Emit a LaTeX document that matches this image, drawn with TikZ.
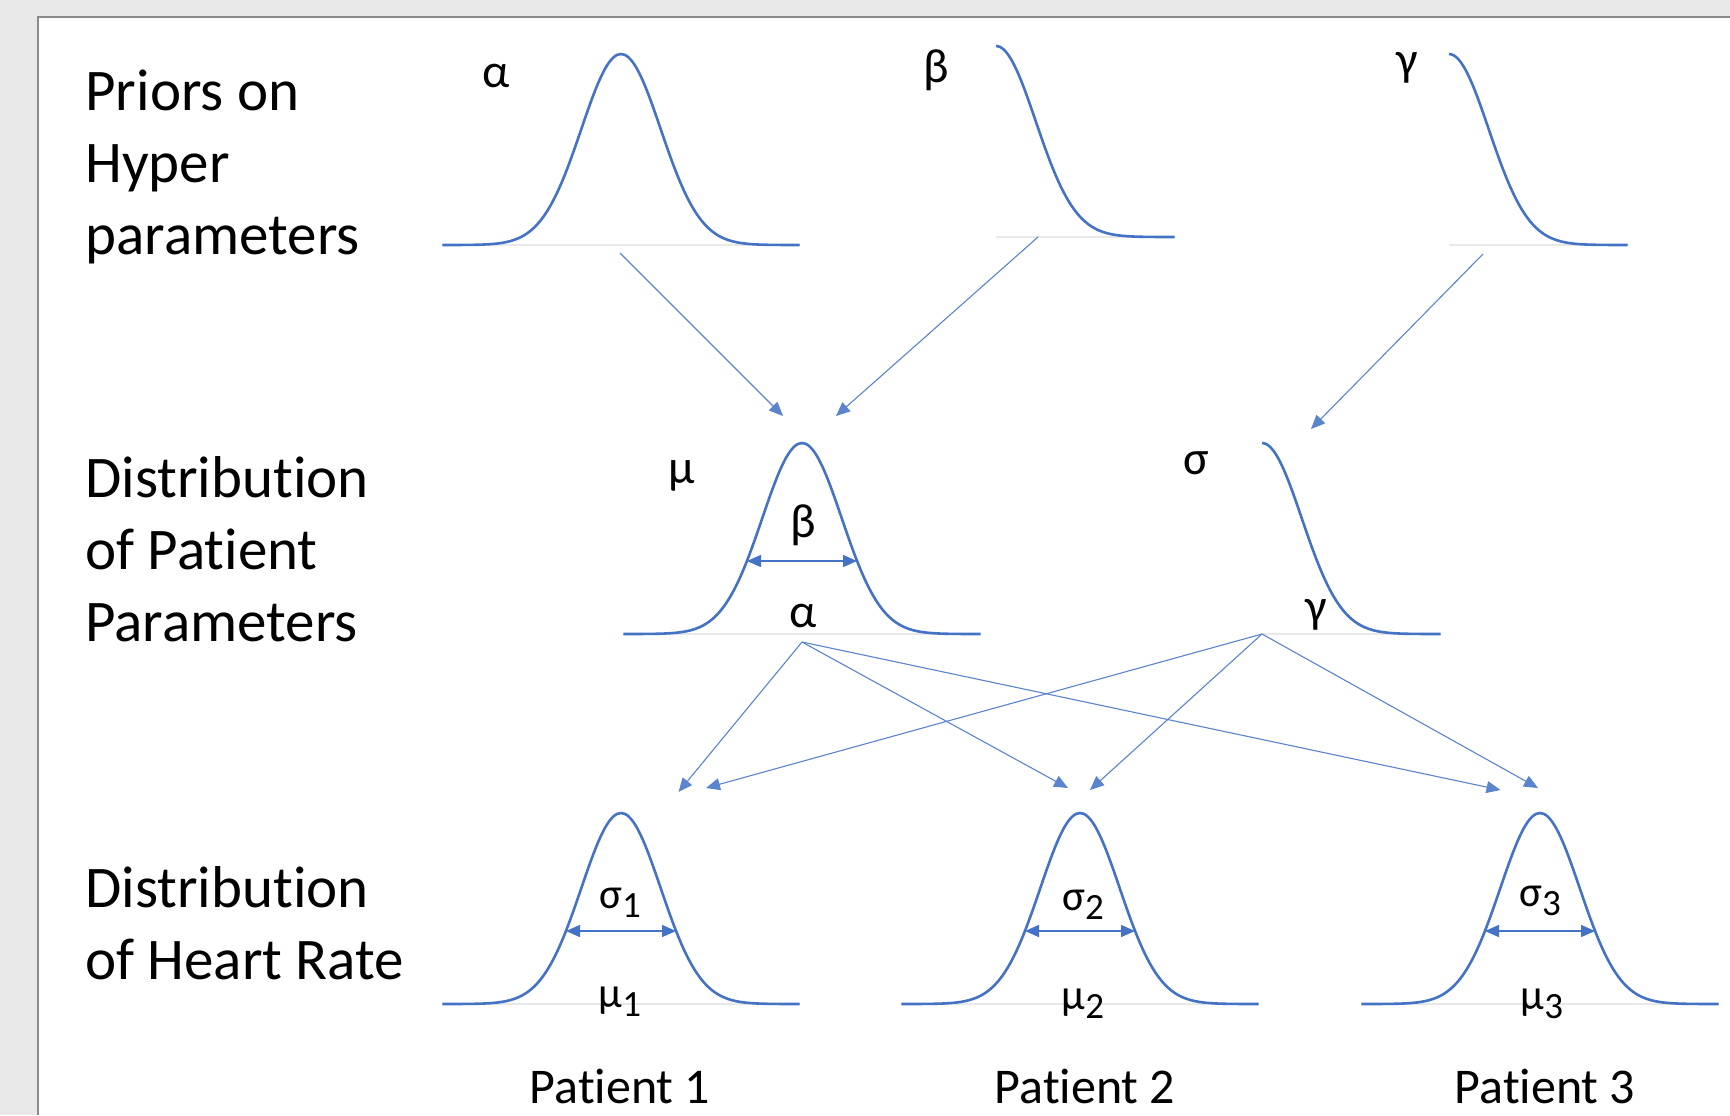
\documentclass[tikz,border=0pt]{standalone}
\usepackage{fontspec}
\setmainfont{Carlito}[Ligatures=NoCommon]
\usetikzlibrary{arrows.meta}
\definecolor{curveblue}{HTML}{4472C4}
\definecolor{linkblue}{HTML}{5A84CE}
\definecolor{axisgray}{HTML}{E8E8E8}
\definecolor{panelgray}{HTML}{8A8A8A}
\definecolor{backgray}{HTML}{E9E9E9}
\newcommand{\lowidx}[1]{\raisebox{-4.5pt}{\fontsize{18.5}{18.5}\selectfont #1}}

\begin{document}
\begin{tikzpicture}[
  x=0.5pt, y=-0.5pt,
  curve/.style={curveblue, line width=1.3pt},
  axis/.style={axisgray, line width=0.6pt},
  link/.style={-{Triangle[length=7pt,width=6pt]}, linkblue, line width=0.55pt},
  spread/.style={{Triangle[length=7pt,width=6pt]}-{Triangle[length=7pt,width=6pt]}, curveblue, line width=0.7pt},
  rowlabel/.style={anchor=base west, align=left, inner sep=0pt, font=\fontsize{29.5}{36}\selectfont},
  greek/.style={anchor=base, inner sep=0pt, font=\fontsize{24}{24}\selectfont},
  idx/.style={anchor=base, inner sep=0pt, font=\fontsize{21.5}{22}\selectfont},
  patient/.style={anchor=base, inner sep=0pt, font=\fontsize{25}{28}\selectfont},
  bell/.pic={
    \draw[axis] (-179,0) -- (179,0);
    \draw[curve] plot[domain=-4.5:4.5, samples=91, smooth] ({\x*39.7}, {-191*exp(-\x*\x/2)});
    \coordinate (-l) at (-55,-73);
    \coordinate (-r) at (55,-73);
  },
  halfbell/.pic={
    \draw[axis] (0,0) -- (179,0);
    \draw[curve] plot[domain=0:4.5, samples=46, smooth] ({\x*39.7}, {-191*exp(-\x*\x/2)});
  }
]
\useasboundingbox (0,0) rectangle (1730,1115);
\fill[backgray] (0,0) rectangle (1730,1115);
\fill[white] (38,17) rectangle (1730,1115);
\draw[panelgray, line width=1.2pt] (38,1115) |- (1730,17);

% row titles (base = last line)
\node[rowlabel] (priors) at (85,254) {Priors on\\Hyper\\parameters};
\node[rowlabel] (patpar) at (85,641) {Distribution\\of Patient\\Parameters};
\node[rowlabel] (heart) at (85,979) {Distribution\\of Heart Rate};

% hyper priors
\pic (ha) at (621,245) {bell};
\pic (hb) at (996,237) {halfbell};
\pic (hg) at (1449,245) {halfbell};
\node[greek] (la) at (496,87) {α};
\node[greek] (lb) at (936,82) {β};
\node[greek] (lg) at (1407,75) {γ};

% patient parameters
\pic (mu) at (802,634) {bell};
\pic (sg) at (1262,634) {halfbell};
\node[greek] (lmu) at (682,483) {μ};
\node[greek] (lbeta) at (803,537) {β};
\node[greek] (lalpha) at (803,627) {α};
\node[greek] (lsig) at (1196,474) {σ};
\node[greek] (lgam) at (1316,622) {γ};

% heart rate per patient
\pic (p1) at (621,1004) {bell};
\pic (p2) at (1080,1004) {bell};
\pic (p3) at (1540,1004) {bell};
\node[idx] (s1) at (620,908) {σ\lowidx{1}};
\node[idx] (m1) at (620,1007) {μ\lowidx{1}};
\node[idx] (s2) at (1083,910) {σ\lowidx{2}};
\node[idx] (m2) at (1083,1009) {μ\lowidx{2}};
\node[idx] (s3) at (1540,906) {σ\lowidx{3}};
\node[idx] (m3) at (1542,1009) {μ\lowidx{3}};
\node[patient] (pt1) at (620,1103) {Patient 1};
\node[patient] (pt2) at (1085,1103) {Patient 2};
\node[patient] (pt3) at (1545,1103) {Patient 3};

\foreach \p in {mu,p1,p2,p3}{\draw[spread] (\p-l) -- (\p-r);}

% connector ends
\coordinate (aS) at (620,253);
\coordinate (bS) at (1038,237);
\coordinate (gS) at (1483,254);
\coordinate (muA) at (783,416);
\coordinate (muB) at (836,416);
\coordinate (sgG) at (1311,429);
\coordinate (alS) at (802,642);
\coordinate (gaS) at (1262,634);
\coordinate (p1A) at (678.5,792);
\coordinate (p1G) at (706,788);
\coordinate (p2A) at (1068,788);
\coordinate (p2G) at (1090,790);
\coordinate (p3A) at (1500.5,790);
\coordinate (p3G) at (1538,788);
\foreach \a/\b in {aS/muA,bS/muB,gS/sgG,alS/p1A,alS/p2A,alS/p3A,gaS/p1G,gaS/p2G,gaS/p3G}{\draw[link] (\a) -- (\b);}
\end{tikzpicture}
\end{document}
